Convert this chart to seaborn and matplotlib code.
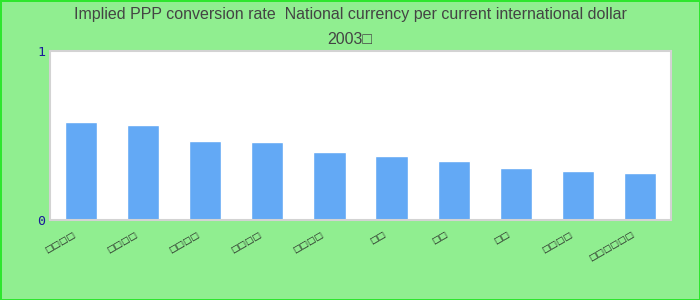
import numpy as np
import matplotlib
matplotlib.use("Agg")
import matplotlib.pyplot as plt
import matplotlib.transforms as mtransforms
import seaborn as sns

# data (labels rendered as missing-glyph boxes there)
labels = ["□□□□", "□□□□", "□□□□", "□□□□", "□□□□",
          "□□", "□□", "□□", "□□□□", "□□□□□□"]
values = [0.579, 0.561, 0.467, 0.461, 0.401, 0.378, 0.348, 0.307, 0.289, 0.277]
title = "Implied PPP conversion rate  National currency per current international dollar\n2003□"

sns.set_style("white")
plt.rcParams['font.family'] = ['Liberation Sans Narrow', 'Liberation Sans', 'DejaVu Sans']

fig = plt.figure(figsize=(7, 3), dpi=100)
fig.patch.set_facecolor("#90EE90")
fig.patch.set_edgecolor("#2EE62E")
fig.patch.set_linewidth(2)

ax = fig.add_axes([50/700, 80/300, 621/700, 169/300])
ax.set_facecolor("white")

pos = list(range(len(values)))
sns.barplot(x=pos, y=values, color="#63A9F5", saturation=1, width=0.52, ax=ax)

ax.set_ylim(0, 1)
ax.set_xlim(-0.5, len(values) - 0.5)
ax.set_yticks([0, 1])
ax.set_yticklabels(["0", "1"], family="DejaVu Sans Mono", fontsize=9.5, color="#1a1a9a")
ax.set_xticks(pos)
ax.set_xticklabels(labels, rotation=30, ha="right", fontsize=6.5, color="#222222",
                   family="DejaVu Sans")
ax.tick_params(axis="both", length=0)
ax.tick_params(axis="x", pad=7)
ax.tick_params(axis="y", pad=3.5)
shift = mtransforms.ScaledTranslation(-4/100, 0, fig.dpi_scale_trans)
for t in ax.get_xticklabels():
    t.set_transform(t.get_transform() + shift)
ax.set_xlabel("")
ax.set_ylabel("")
for s in ax.spines.values():
    s.set_color("#d3d3d3")
    s.set_linewidth(1.5)

fig.text(0.5, 0.978, title, ha="center", va="top", fontsize=11.5, color="#444444",
         linespacing=1.9)

fig.savefig("out.png", dpi=100, facecolor=fig.get_facecolor(), edgecolor=fig.get_edgecolor())
